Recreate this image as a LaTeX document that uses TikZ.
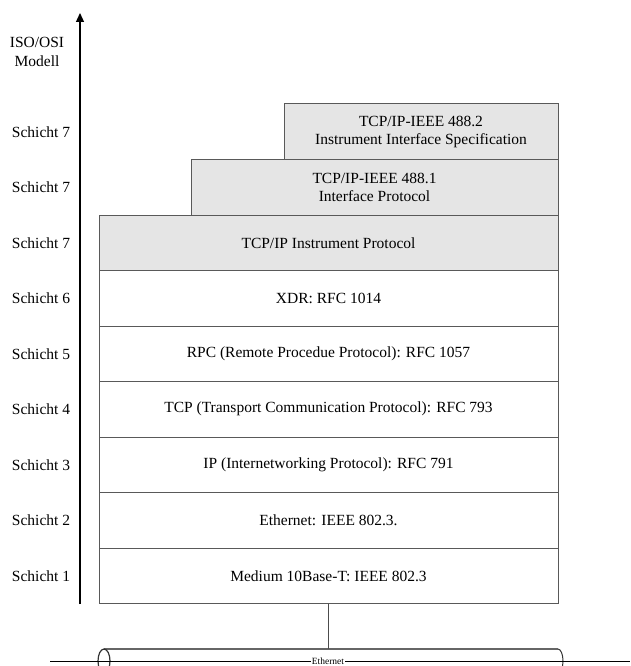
\documentclass[tikz,border=0pt]{standalone}
\usepackage{fontspec}
\setmainfont{Liberation Serif}
\usetikzlibrary{positioning,arrows.meta}

\tikzset{
  layer/.style={draw=black!65, line width=1pt, inner sep=0pt, outer sep=0pt, align=center,
    minimum width=459pt, minimum height=55.5pt,
    font=\fontsize{15.5}{18}\selectfont},
  tcplayer/.style={layer, fill=black!10},
  schicht/.style={align=center, font=\fontsize{15.5}{19}\selectfont},
}

\begin{document}
\begin{tikzpicture}[x=1pt,y=-1pt]
  \clip (0,0) rectangle (630,666);
  % the stack of protocol layers
  \node[tcplayer, minimum width=274pt, anchor=north east] (spec) at (558,104)
    {TCP/IP-IEEE 488.2\\Instrument Interface Specification};
  \node[tcplayer, minimum width=367pt, anchor=north east] (ifc) at (spec.south east)
    {TCP/IP-IEEE 488.1\\Interface Protocol};
  \node[tcplayer, anchor=north east] (instr) at (ifc.south east) {TCP/IP Instrument Protocol};
  \node[layer, below=0pt of instr] (xdr) {XDR: RFC 1014};
  \node[layer, below=0pt of xdr] (rpc) {RPC (Remote Procedue Protocol): RFC 1057};
  \node[layer, below=0pt of rpc] (tcp) {TCP (Transport Communication Protocol): RFC 793};
  \node[layer, below=0pt of tcp] (ip) {IP (Internetworking Protocol): RFC 791};
  \node[layer, below=0pt of ip] (ether) {Ethernet: IEEE 802.3.};
  \node[layer, below=0pt of ether] (medium) {Medium 10Base-T: IEEE 802.3};

  % the OSI axis
  \coordinate (axbot) at (80,604);
  \coordinate (axtop) at (80,13);
  \draw[line width=1.2pt, -{Triangle[length=9pt,width=8pt]}] (axbot) -- (axtop);
  \node[schicht] (iso) at (37,52) {ISO/OSI\\Modell};

  \coordinate (lbl) at (41,0);
  \node[schicht] (s7c) at (lbl |- spec) {Schicht 7};
  \node[schicht] (s7b) at (lbl |- ifc) {Schicht 7};
  \node[schicht] (s7a) at (lbl |- instr) {Schicht 7};
  \node[schicht] (s6) at (lbl |- xdr) {Schicht 6};
  \node[schicht] (s5) at (lbl |- rpc) {Schicht 5};
  \node[schicht] (s4) at (lbl |- tcp) {Schicht 4};
  \node[schicht] (s3) at (lbl |- ip) {Schicht 3};
  \node[schicht] (s2) at (lbl |- ether) {Schicht 2};
  \node[schicht] (s1) at (lbl |- medium) {Schicht 1};

  % ethernet cable
  \coordinate (cabletop) at (104,649);
  \coordinate (cableend) at (558,649);
  \coordinate (busleft) at (50,661);
  \coordinate (busright) at (630,661);
  \draw[black!60, line width=1.2pt] (cabletop) -- (cableend);
  \draw[black!80, line width=1pt] (cableend) arc[start angle=-90, end angle=90, x radius=5, y radius=12];
  \draw[black!80, line width=1.2pt] (104,661) ellipse[x radius=6, y radius=12];
  \draw[line width=1pt] (busleft) -- (busright);
  \node[fill=white, inner sep=1pt, font=\fontsize{9.5}{10}\selectfont] (eth) at (328,661) {Ethernet};
  \draw[black!70, line width=1pt] (medium.south) -- (medium.south |- cabletop);
\end{tikzpicture}
\end{document}
